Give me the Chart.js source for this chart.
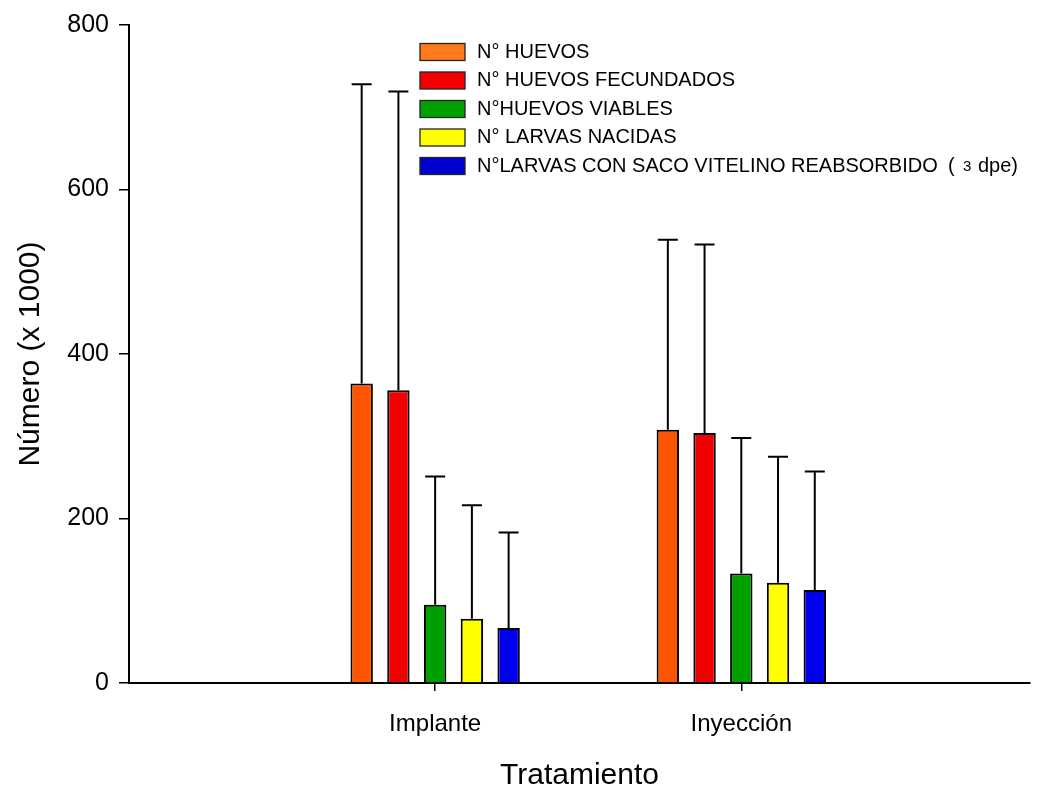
<!DOCTYPE html>
<html>
<head>
<meta charset="utf-8">
<script src="https://cdn.jsdelivr.net/npm/chart.js@4.4.1/dist/chart.umd.min.js"></script>
<style>
  html, body { margin: 0; padding: 0; background: #fff; overflow: hidden; }
  #wrap { width: 1038px; height: 791px; }
</style>
</head>
<body>
<div id="wrap"><canvas id="chart"></canvas></div>
<script>
const treatments = ['Implante', 'Inyección'];
const seriesLabels = [
  'N° HUEVOS',
  'N° HUEVOS FECUNDADOS',
  'N°HUEVOS VIABLES',
  'N° LARVAS NACIDAS',
  'N°LARVAS CON SACO VITELINO REABSORBIDO'
];

// means (x 1000)
const huevos = [364, 308];
const huevosFecundados = [356, 304];
const huevosViables = [95, 133];
const larvasNacidas = [78, 122];
const larvasReabsorbido = [67, 113];

// upper error (SD)
const huevosSD = [364, 231];
const huevosFecundadosSD = [363, 229];
const huevosViablesSD = [156, 165];
const larvasNacidasSD = [138, 153];
const larvasReabsorbidoSD = [116, 144];

const yTicks = [0, 200, 400, 600, 800];

const colors = ['#FF5500', '#F00000', '#009F00', '#FFFF00', '#0000F0'];
const legendColors = ['#FF7A1A', '#F50000', '#00A000', '#FFFF00', '#0000D0'];
const FONT = "'Liberation Sans', Arial, sans-serif";

const means = [huevos, huevosFecundados, huevosViables, larvasNacidas, larvasReabsorbido];
const sds = [huevosSD, huevosFecundadosSD, huevosViablesSD, larvasNacidasSD, larvasReabsorbidoSD];

const datasets = seriesLabels.map((label, k) => ({
  label,
  data: treatments.map((t, i) => ({ x: i + 1, y: means[k][i] })),
  sd: sds[k],
  backgroundColor: colors[k],
  borderColor: '#000',
  borderWidth: 2,
  categoryPercentage: 0.6,
  barPercentage: 0.61
}));

const errorBars = {
  id: 'errorBars',
  afterDatasetsDraw(chart) {
    const { ctx, scales: { y } } = chart;
    ctx.save();
    ctx.strokeStyle = '#000';
    ctx.lineWidth = 2;
    chart.data.datasets.forEach((ds, di) => {
      chart.getDatasetMeta(di).data.forEach((bar, i) => {
        const top = y.getPixelForValue(ds.data[i].y + ds.sd[i]);
        ctx.beginPath();
        ctx.moveTo(bar.x, bar.y);
        ctx.lineTo(bar.x, top);
        ctx.moveTo(bar.x - 10, top);
        ctx.lineTo(bar.x + 10, top);
        ctx.stroke();
      });
    });
    ctx.restore();
  }
};

// legend drawn inside the plot
const insideLegend = {
  id: 'insideLegend',
  afterDraw(chart) {
    const ctx = chart.ctx;
    const y0 = 52, step = 28.5;
    ctx.save();
    ctx.textBaseline = 'middle';
    chart.data.datasets.forEach((ds, k) => {
      const cy = y0 + k * step;
      ctx.fillStyle = legendColors[k];
      ctx.fillRect(420, cy - 8.5, 45, 17);
      ctx.strokeStyle = '#222';
      ctx.lineWidth = 1.3;
      ctx.strokeRect(420, cy - 8.5, 45, 17);
      ctx.fillStyle = '#000';
      ctx.font = '20px ' + FONT;
      ctx.fillText(ds.label, 477, cy);
      if (k === seriesLabels.length - 1) {
        ctx.fillText('(', 948, cy);
        ctx.fillText('dpe)', 978, cy);
        ctx.font = '15px ' + FONT;
        ctx.fillText('3', 963, cy + 1);
      }
    });
    ctx.restore();
  }
};

new Chart(document.getElementById('chart'), {
  type: 'bar',
  data: { datasets },
  plugins: [errorBars, insideLegend],
  options: {
    responsive: true,
    maintainAspectRatio: false,
    animation: false,
    layout: { padding: { top: 22, right: 8, left: 0, bottom: 0 } },
    plugins: { legend: { display: false }, tooltip: { enabled: false } },
    scales: {
      x: {
        type: 'linear',
        offset: false,
        min: 0,
        max: 2.943,
        afterBuildTicks: s => { s.ticks = treatments.map((t, i) => ({ value: i + 1 })); },
        afterFit: s => { s.height = 108; },
        ticks: {
          autoSkip: false,
          maxRotation: 0,
          padding: 19,
          color: '#000',
          font: { family: FONT, size: 24 },
          callback: v => treatments[v - 1] ?? ''
        },
        grid: { offset: false, drawOnChartArea: false, tickLength: 8, color: '#000', lineWidth: 1.5 },
        border: { color: '#000', width: 2 },
        title: {
          display: true,
          text: 'Tratamiento',
          color: '#000',
          font: { family: FONT, size: 30, lineHeight: 1 },
          padding: { top: 0, bottom: 0 }
        }
      },
      y: {
        min: 0,
        max: 800,
        afterBuildTicks: s => { s.ticks = yTicks.map(v => ({ value: v })); },
        afterFit: s => { s.width = 129; },
        ticks: {
          padding: 10,
          color: '#000',
          font: { family: FONT, size: 25 }
        },
        grid: { drawOnChartArea: false, tickLength: 10, color: '#000', lineWidth: 1.5 },
        border: { color: '#000', width: 2 },
        title: {
          display: true,
          text: 'Número (x 1000)',
          color: '#000',
          font: { family: FONT, size: 30 },
          padding: { top: 13, bottom: 0 }
        }
      }
    }
  }
});
</script>
</body>
</html>
